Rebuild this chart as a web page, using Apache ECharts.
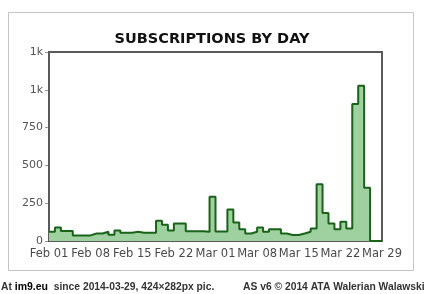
<!DOCTYPE html>
<html>
<head>
<meta charset="utf-8">
<script src="https://cdn.jsdelivr.net/npm/echarts@6/dist/echarts.min.js"></script>
<style>
html,body{margin:0;padding:0;background:#fff;}
#chart{width:424px;height:294px;}
</style>
</head>
<body>
<div id="chart"></div>
<script>
// Days from Feb 01 to Mar 29
var startDay = new Date(2014, 1, 1);
var monthNames = ['Jan','Feb','Mar','Apr'];
var days = [];
for (var i = 0; i < 57; i++) {
  var d = new Date(startDay.getTime() + i * 86400000);
  var dd = d.getDate();
  days.push(monthNames[d.getMonth()] + ' ' + (dd < 10 ? '0' + dd : dd));
}
// Subscriptions per day
var subscriptions = [
  61, 90, 66, 66, 37, 37, 37, 50, 50, 61,
  42, 70, 55, 55, 61, 55, 55, 55, 134, 107,
  70, 116, 116, 64, 64, 64, 61, 293, 63, 63,
  209, 122, 77, 50, 61, 90, 61, 77, 77, 50,
  40, 40, 50, 61, 83, 375, 186, 116, 77, 127,
  83, 906, 1026, 353, 0, 0, 0
];
var yTickLabels = ['0', '250', '500', '750', '1k', '1k'];

var chart = echarts.init(document.getElementById('chart'));
chart.setOption({
  animation: false,
  backgroundColor: '#fff',
  title: {
    text: 'SUBSCRIPTIONS BY DAY',
    left: 'center',
    top: 27,
    textStyle: {fontFamily: 'DejaVu Sans', fontWeight: 'bold', fontSize: 14.5, color: '#111'}
  },
  graphic: [
    {type: 'rect', z: -10, shape: {x: 8.5, y: 12.5, width: 405, height: 258},
     style: {fill: '#fff', stroke: '#c4c4c4', lineWidth: 1}},
    {type: 'text', left: 1, top: 282,
     style: {
       text: '{g|At }{b|im9.eu}{g|  since 2014-03-29, 424×282px pic.}',
       rich: {
         g: {fontFamily: 'Liberation Sans', fontWeight: 'bold', fontSize: 10.3, fill: '#333'},
         b: {fontFamily: 'Liberation Sans', fontWeight: 'bold', fontSize: 10.5, fill: '#000'}
       }
     }},
    {type: 'text', left: 243, top: 282,
     style: {text: 'AS v6 © 2014 ATA Walerian Walawski', fontFamily: 'Liberation Sans', fontWeight: 'bold', fontSize: 10.3, fill: '#333'}}
  ],
  grid: {
    left: 49, right: 42, top: 52, bottom: 53,
    show: true, borderColor: '#5a5a5a', borderWidth: 2, backgroundColor: '#fff', z: 1
  },
  xAxis: {
    type: 'category',
    data: days,
    boundaryGap: false,
    axisLine: {show: false},
    axisTick: {show: false},
    axisLabel: {interval: 6, margin: 7, fontFamily: 'DejaVu Sans', fontSize: 11.5, color: '#4a4a4a'},
    splitLine: {show: true, interval: 6, lineStyle: {color: '#dcdcdc', width: 1}}
  },
  yAxis: {
    type: 'value',
    min: 0, max: 1250, interval: 250,
    axisLine: {show: false},
    axisTick: {show: true, length: 4, lineStyle: {color: '#999'}},
    axisLabel: {
      margin: 6, fontFamily: 'DejaVu Sans', fontSize: 11, color: '#555',
      formatter: function (v) { return yTickLabels[Math.round(v / 250)]; }
    },
    splitLine: {show: true, lineStyle: {color: '#dcdcdc', width: 1}}
  },
  series: [{
    type: 'line',
    step: 'end',
    data: subscriptions,
    symbol: 'none',
    z: 3,
    lineStyle: {color: '#1a621a', width: 2},
    areaStyle: {color: '#9fd09f', opacity: 1}
  }]
});
</script>
</body>
</html>
